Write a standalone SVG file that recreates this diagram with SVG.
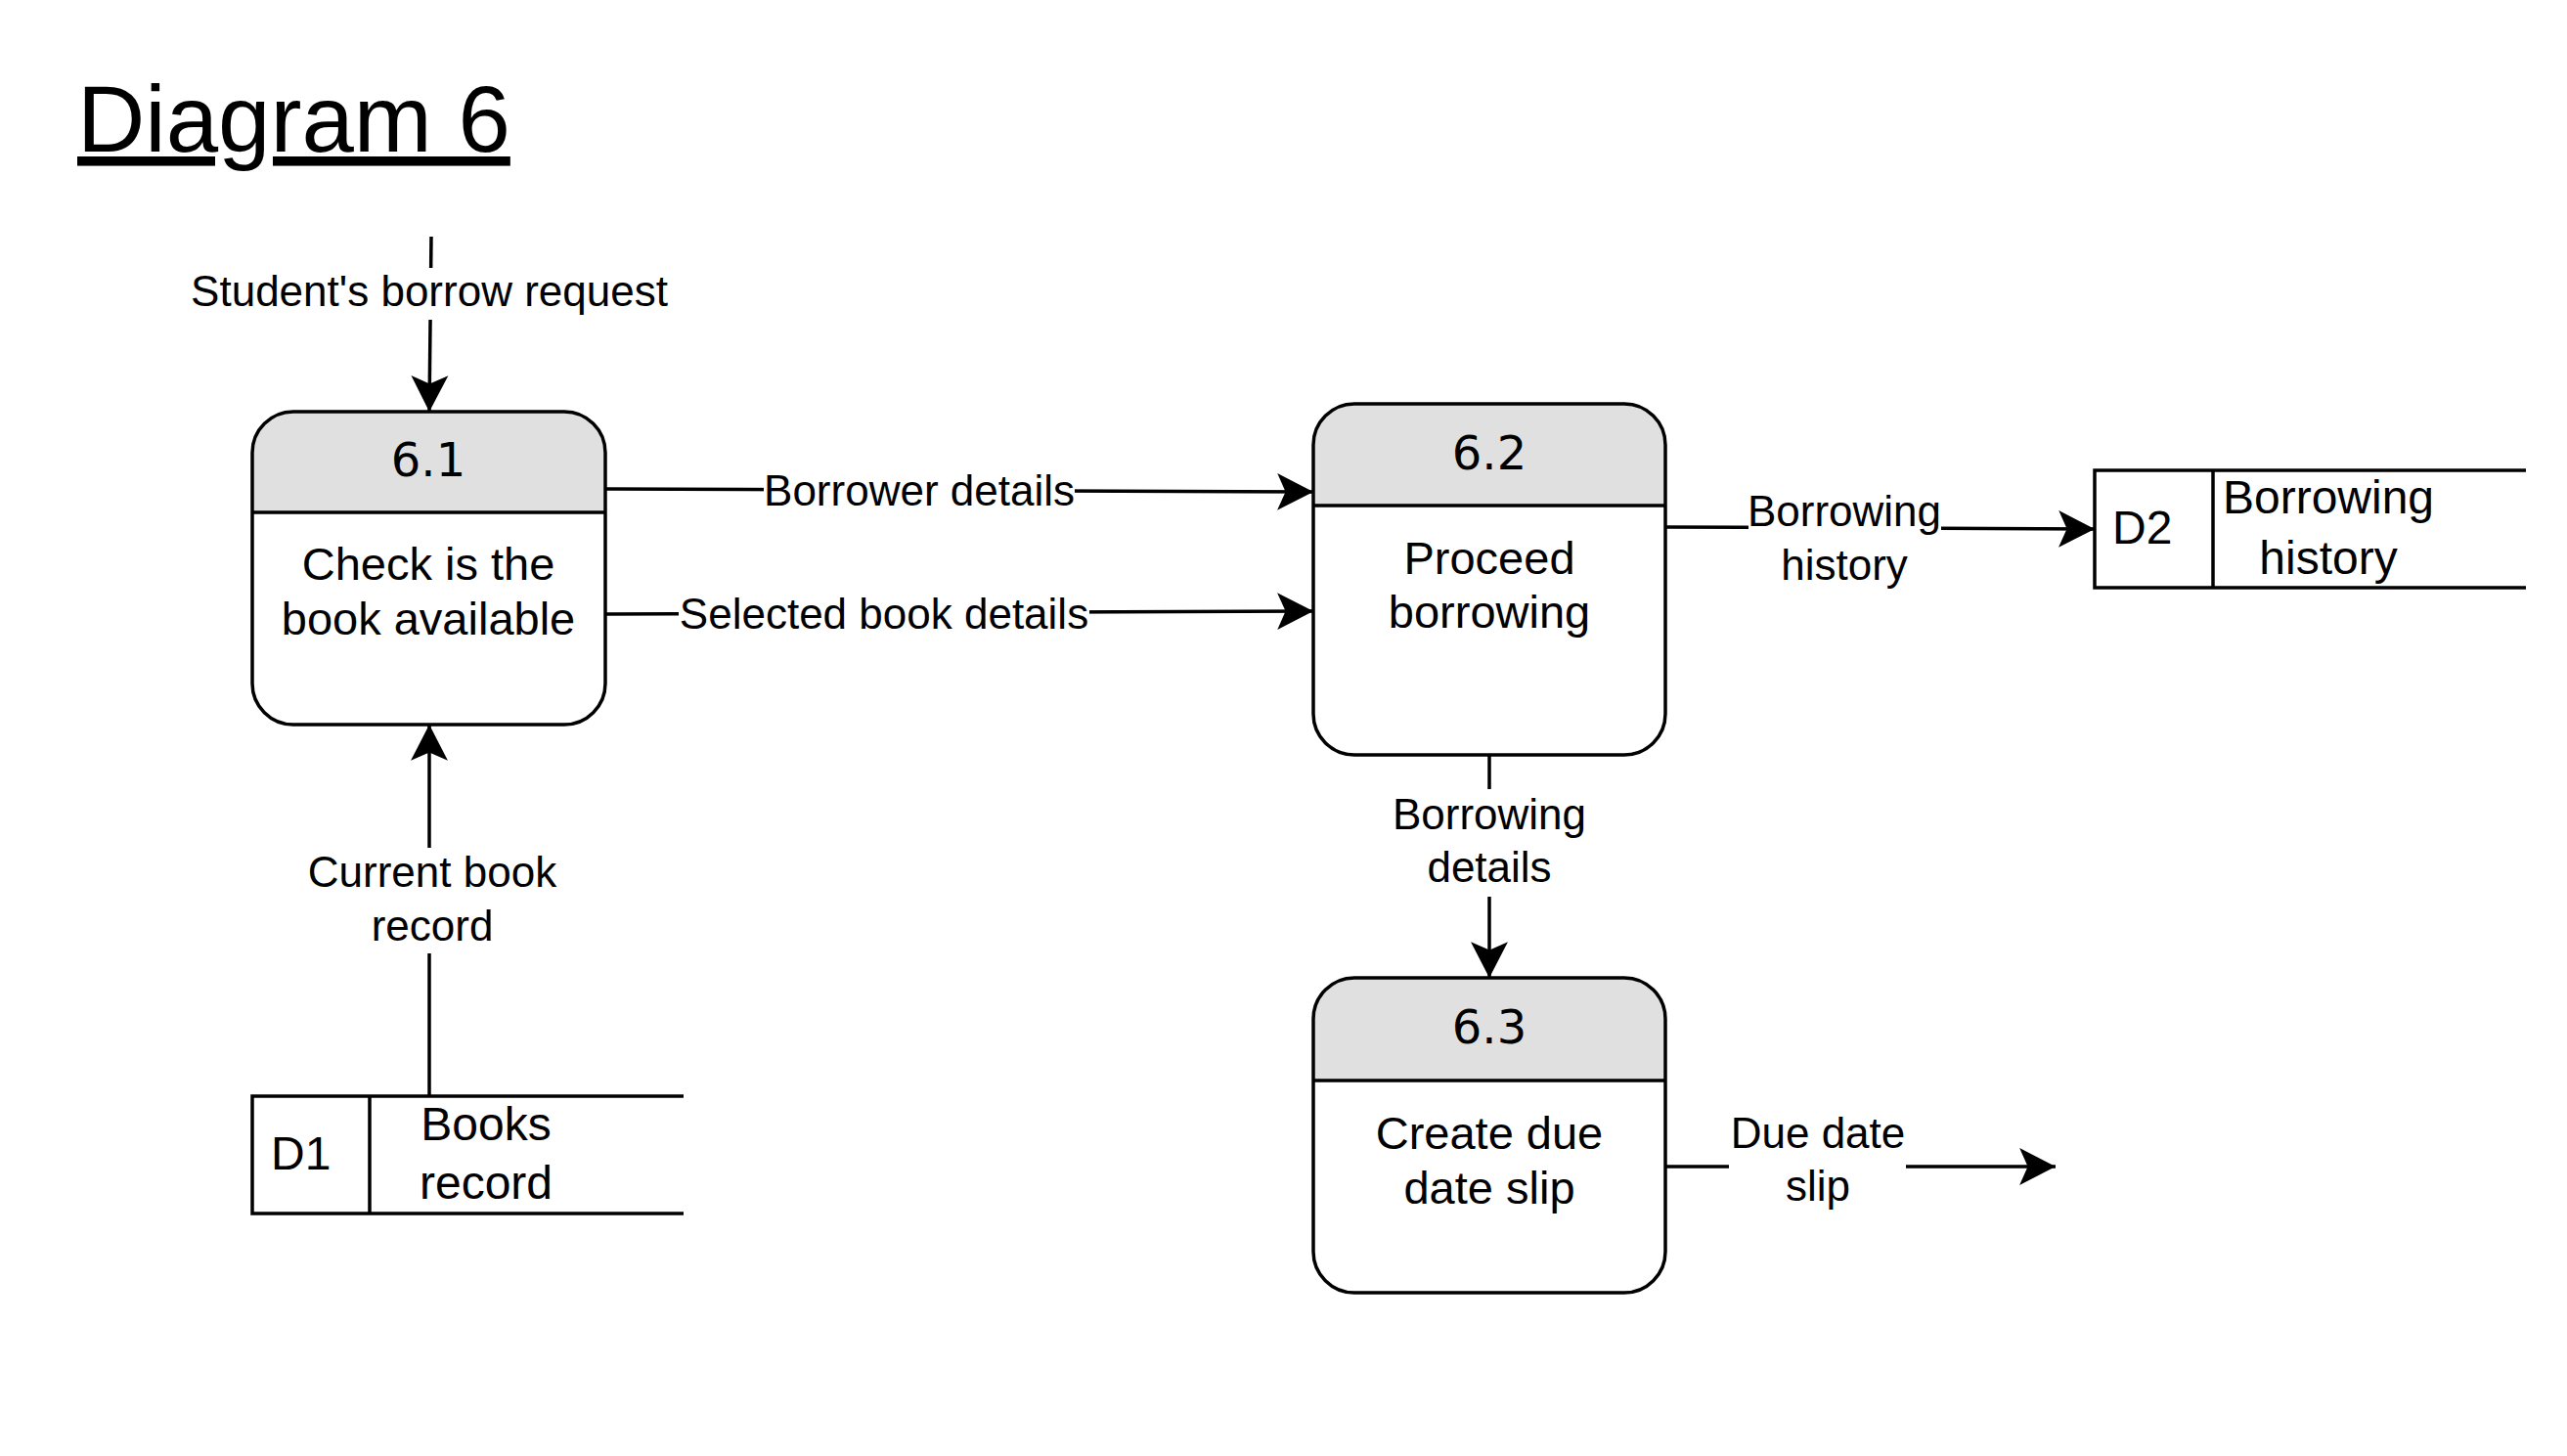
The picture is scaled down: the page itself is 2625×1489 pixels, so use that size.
<svg xmlns="http://www.w3.org/2000/svg" width="2625" height="1489" viewBox="0 0 2625 1489">
<style>
text{font-family:"Liberation Sans",Arial,Helvetica,sans-serif;fill:#000}
.title{font-size:96px;text-decoration:underline}
.hdr{font-family:"DejaVu Sans",Verdana,sans-serif;font-size:48px;text-anchor:middle}
.ptxt{font-size:47px;text-anchor:middle}
.stxt{font-size:48px}
.lbl{font-size:44px;text-anchor:middle}
.box{fill:none;stroke:#000;stroke-width:3.5}
.head{fill:#e0e0e0;stroke:none}
.body{fill:#fff;stroke:none}
.div{stroke:#000;stroke-width:3.5}
.store{fill:#fff;stroke:none}
.sline{stroke:#000;stroke-width:3.5;fill:none}
.flow{stroke:#000;stroke-width:3.5;fill:none;marker-end:url(#arr)}
.bg{fill:#fff;stroke:none}
</style>
<defs>
<marker id="arr" markerUnits="userSpaceOnUse" markerWidth="40" markerHeight="40" viewBox="-36 -19 38 38" refX="0" refY="0" orient="auto">
<path d="M0,0 L-35,-18 L-27,0 L-35,18 Z" fill="#000"/>
</marker>
</defs>
<rect width="2625" height="1489" fill="#fff"/>
<text class="title" x="79" y="155">Diagram 6</text>

<g id="connectors">
<g id="c-request">
<path class="flow" d="M441,242 L439,421"/>
<rect class="bg" x="195" y="274" width="490" height="53"/>
<text class="lbl" x="439" y="313">Student's borrow request</text>
</g>
<g id="c-borrower">
<path class="flow" d="M619,500 L1343,503"/>
<rect class="bg" x="781" y="480" width="318" height="46"/>
<text class="lbl" x="940" y="517">Borrower details</text>
</g>
<g id="c-selected">
<path class="flow" d="M619,628 L1343,625"/>
<rect class="bg" x="694" y="606" width="420" height="46"/>
<text class="lbl" x="904" y="643">Selected book details</text>
</g>
<g id="c-history">
<path class="flow" d="M1703,539 L2142,541"/>
<rect class="bg" x="1788" y="500" width="197" height="105"/>
<text class="lbl" x="1886" y="538">Borrowing</text>
<text class="lbl" x="1886" y="593">history</text>
</g>
<g id="c-details">
<path class="flow" d="M1523,772 L1523,1000"/>
<rect class="bg" x="1421" y="807" width="204" height="110"/>
<text class="lbl" x="1523" y="848">Borrowing</text>
<text class="lbl" x="1523" y="902">details</text>
</g>
<g id="c-current">
<path class="flow" d="M439,1121 L439,741"/>
<rect class="bg" x="312" y="867" width="260" height="108"/>
<text class="lbl" x="442" y="907">Current book</text>
<text class="lbl" x="442" y="962">record</text>
</g>
<g id="c-slip">
<path class="flow" d="M1703,1193 L2102,1193"/>
<rect class="bg" x="1768" y="1140" width="181" height="100"/>
<text class="lbl" x="1859" y="1174">Due date</text>
<text class="lbl" x="1859" y="1228">slip</text>
</g>
</g>

<g id="p61">
<rect class="body" x="258" y="421" width="361" height="320" rx="42"/>
<path class="head" d="M258,524 V463 A42,42 0 0 1 300,421 H577 A42,42 0 0 1 619,463 V524 Z"/>
<line class="div" x1="258" y1="524" x2="619" y2="524"/>
<rect class="box" x="258" y="421" width="361" height="320" rx="42"/>
<text class="hdr" x="438" y="487">6.1</text>
<text class="ptxt" x="438" y="593">Check is the</text>
<text class="ptxt" x="438" y="649">book available</text>
</g>

<g id="p62">
<rect class="body" x="1343" y="413" width="360" height="359" rx="42"/>
<path class="head" d="M1343,517 V455 A42,42 0 0 1 1385,413 H1661 A42,42 0 0 1 1703,455 V517 Z"/>
<line class="div" x1="1343" y1="517" x2="1703" y2="517"/>
<rect class="box" x="1343" y="413" width="360" height="359" rx="42"/>
<text class="hdr" x="1523" y="480">6.2</text>
<text class="ptxt" x="1523" y="587">Proceed</text>
<text class="ptxt" x="1523" y="642">borrowing</text>
</g>

<g id="p63">
<rect class="body" x="1343" y="1000" width="360" height="322" rx="42"/>
<path class="head" d="M1343,1105 V1042 A42,42 0 0 1 1385,1000 H1661 A42,42 0 0 1 1703,1042 V1105 Z"/>
<line class="div" x1="1343" y1="1105" x2="1703" y2="1105"/>
<rect class="box" x="1343" y="1000" width="360" height="322" rx="42"/>
<text class="hdr" x="1523" y="1067">6.3</text>
<text class="ptxt" x="1523" y="1175">Create due</text>
<text class="ptxt" x="1523" y="1231">date slip</text>
</g>

<g id="d1">
<rect class="store" x="258" y="1121" width="441" height="120"/>
<path class="sline" d="M699,1121 H258 V1241 H699 M378,1121 V1241"/>
<text class="stxt" x="277" y="1196">D1</text>
<text class="stxt" x="497" y="1166" text-anchor="middle">Books</text>
<text class="stxt" x="497" y="1226" text-anchor="middle">record</text>
</g>

<g id="d2">
<rect class="store" x="2142" y="481" width="441" height="120"/>
<path class="sline" d="M2583,481 H2142 V601 H2583 M2263,481 V601"/>
<text class="stxt" x="2160" y="556">D2</text>
<text class="stxt" x="2381" y="525" text-anchor="middle">Borrowing</text>
<text class="stxt" x="2381" y="587" text-anchor="middle">history</text>
</g>
</svg>
